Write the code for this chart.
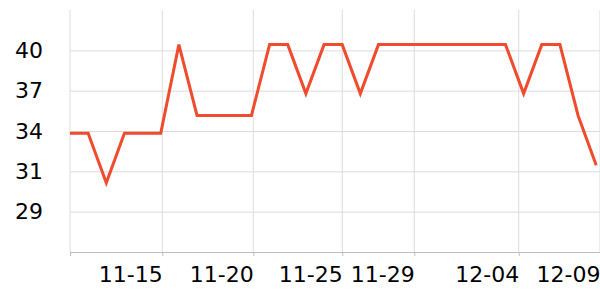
<!DOCTYPE html>
<html>
<head>
<meta charset="utf-8">
<script src="https://cdn.jsdelivr.net/npm/d3@7"></script>
<style>
  body { margin: 0; background: #fff; }
  text { font-family: "DejaVu Sans", sans-serif; fill: #000; }
</style>
</head>
<body>
<div id="wrapper"></div>
<script>
// data
const startDate = "2023-11-10";
const values = [
  34.35, 34.35, 30.97, 34.35, 34.35, 34.35, 40.39, 35.56, 35.56, 35.56,
  35.56, 40.39, 40.39, 37.05, 40.39, 40.39, 37.05, 40.39, 40.39, 40.39,
  40.39, 40.39, 40.39, 40.39, 40.39, 37.05, 40.39, 40.39, 35.56, 32.17,
];
const xTickTimes = [
  "2023-11-15T02:05", "2023-11-20T02:25", "2023-11-25T00:09",
  "2023-11-28T23:23", "2023-12-04T17:30", "2023-12-09T05:00",
];
const xTickLabels = ["11-15", "11-20", "11-25", "11-29", "12-04", "12-09"];
const yTicks = [29, 31.75, 34.5, 37.25, 40];
const yDomain = [26.25, 42.75];

function drawChart() {
  const parseTime = d3.isoParse;
  const firstDate = parseTime(startDate + "T00:00");
  const dataset = values.map((v, i) => ({
    date: d3.timeDay.offset(firstDate, i),
    value: v,
  }));
  const tickDates = xTickTimes.map(parseTime);

  let dimensions = {
    width: 600,
    height: 300,
    margin: { top: 10, right: 0, bottom: 48, left: 70 },
  };
  dimensions.plotWidth =
    dimensions.width - dimensions.margin.left - dimensions.margin.right;
  dimensions.plotHeight =
    dimensions.height - dimensions.margin.top - dimensions.margin.bottom;

  const chart = d3
    .select("#wrapper")
    .append("svg")
    .attr("width", dimensions.width)
    .attr("height", dimensions.height);

  const plot = chart
    .append("g")
    .attr(
      "transform",
      `translate(${dimensions.margin.left}, ${dimensions.margin.top})`
    );

  // scales
  const xScale = d3
    .scaleTime()
    .domain([firstDate, tickDates[tickDates.length - 1]])
    .range([0, dimensions.plotWidth]);

  const yScale = d3
    .scaleLinear()
    .domain(yDomain)
    .range([dimensions.plotHeight, 0]);

  // horizontal grid + y labels
  const yAxis = d3
    .axisLeft(yScale)
    .tickValues(yTicks)
    .tickSize(-dimensions.plotWidth)
    .tickPadding(27)
    .tickFormat((d) => Math.floor(d));

  const yAxisGroup = plot.append("g").call(yAxis);
  yAxisGroup.select(".domain").remove();
  yAxisGroup.selectAll(".tick line").attr("stroke", "#dcdcdc");
  yAxisGroup
    .selectAll(".tick text")
    .style("font-size", "22px")
    .attr("fill", "#000");

  // vertical grid
  const gridDates = [firstDate].concat(tickDates);
  plot
    .selectAll(".vgrid")
    .data(gridDates)
    .enter()
    .append("line")
    .attr("class", "vgrid")
    .attr("x1", (d) => xScale(d))
    .attr("x2", (d) => xScale(d))
    .attr("y1", 0)
    .attr("y2", dimensions.plotHeight)
    .attr("stroke", "#dcdcdc");

  // x axis
  const xAxis = d3
    .axisBottom(xScale)
    .tickValues(gridDates)
    .tickSize(4)
    .tickPadding(10)
    .tickFormat((d, i) => (i === 0 ? "" : xTickLabels[i - 1]));

  const xAxisGroup = plot
    .append("g")
    .attr("transform", `translate(0, ${dimensions.plotHeight})`)
    .call(xAxis);
  xAxisGroup.select(".domain").attr("stroke", "#bdbdbd");
  xAxisGroup.selectAll(".tick line").attr("stroke", "#bdbdbd");
  xAxisGroup
    .selectAll(".tick text")
    .style("font-size", "22px")
    .attr("text-anchor", "end")
    .attr("fill", "#000");

  // line
  const lineGenerator = d3
    .line()
    .x((d) => xScale(d.date))
    .y((d) => yScale(d.value));

  plot
    .append("path")
    .datum(dataset)
    .attr("d", lineGenerator)
    .attr("fill", "none")
    .attr("stroke", "#ef4b2c")
    .attr("stroke-width", 3)
    .attr("stroke-linejoin", "miter");
}
drawChart();
</script>
</body>
</html>
